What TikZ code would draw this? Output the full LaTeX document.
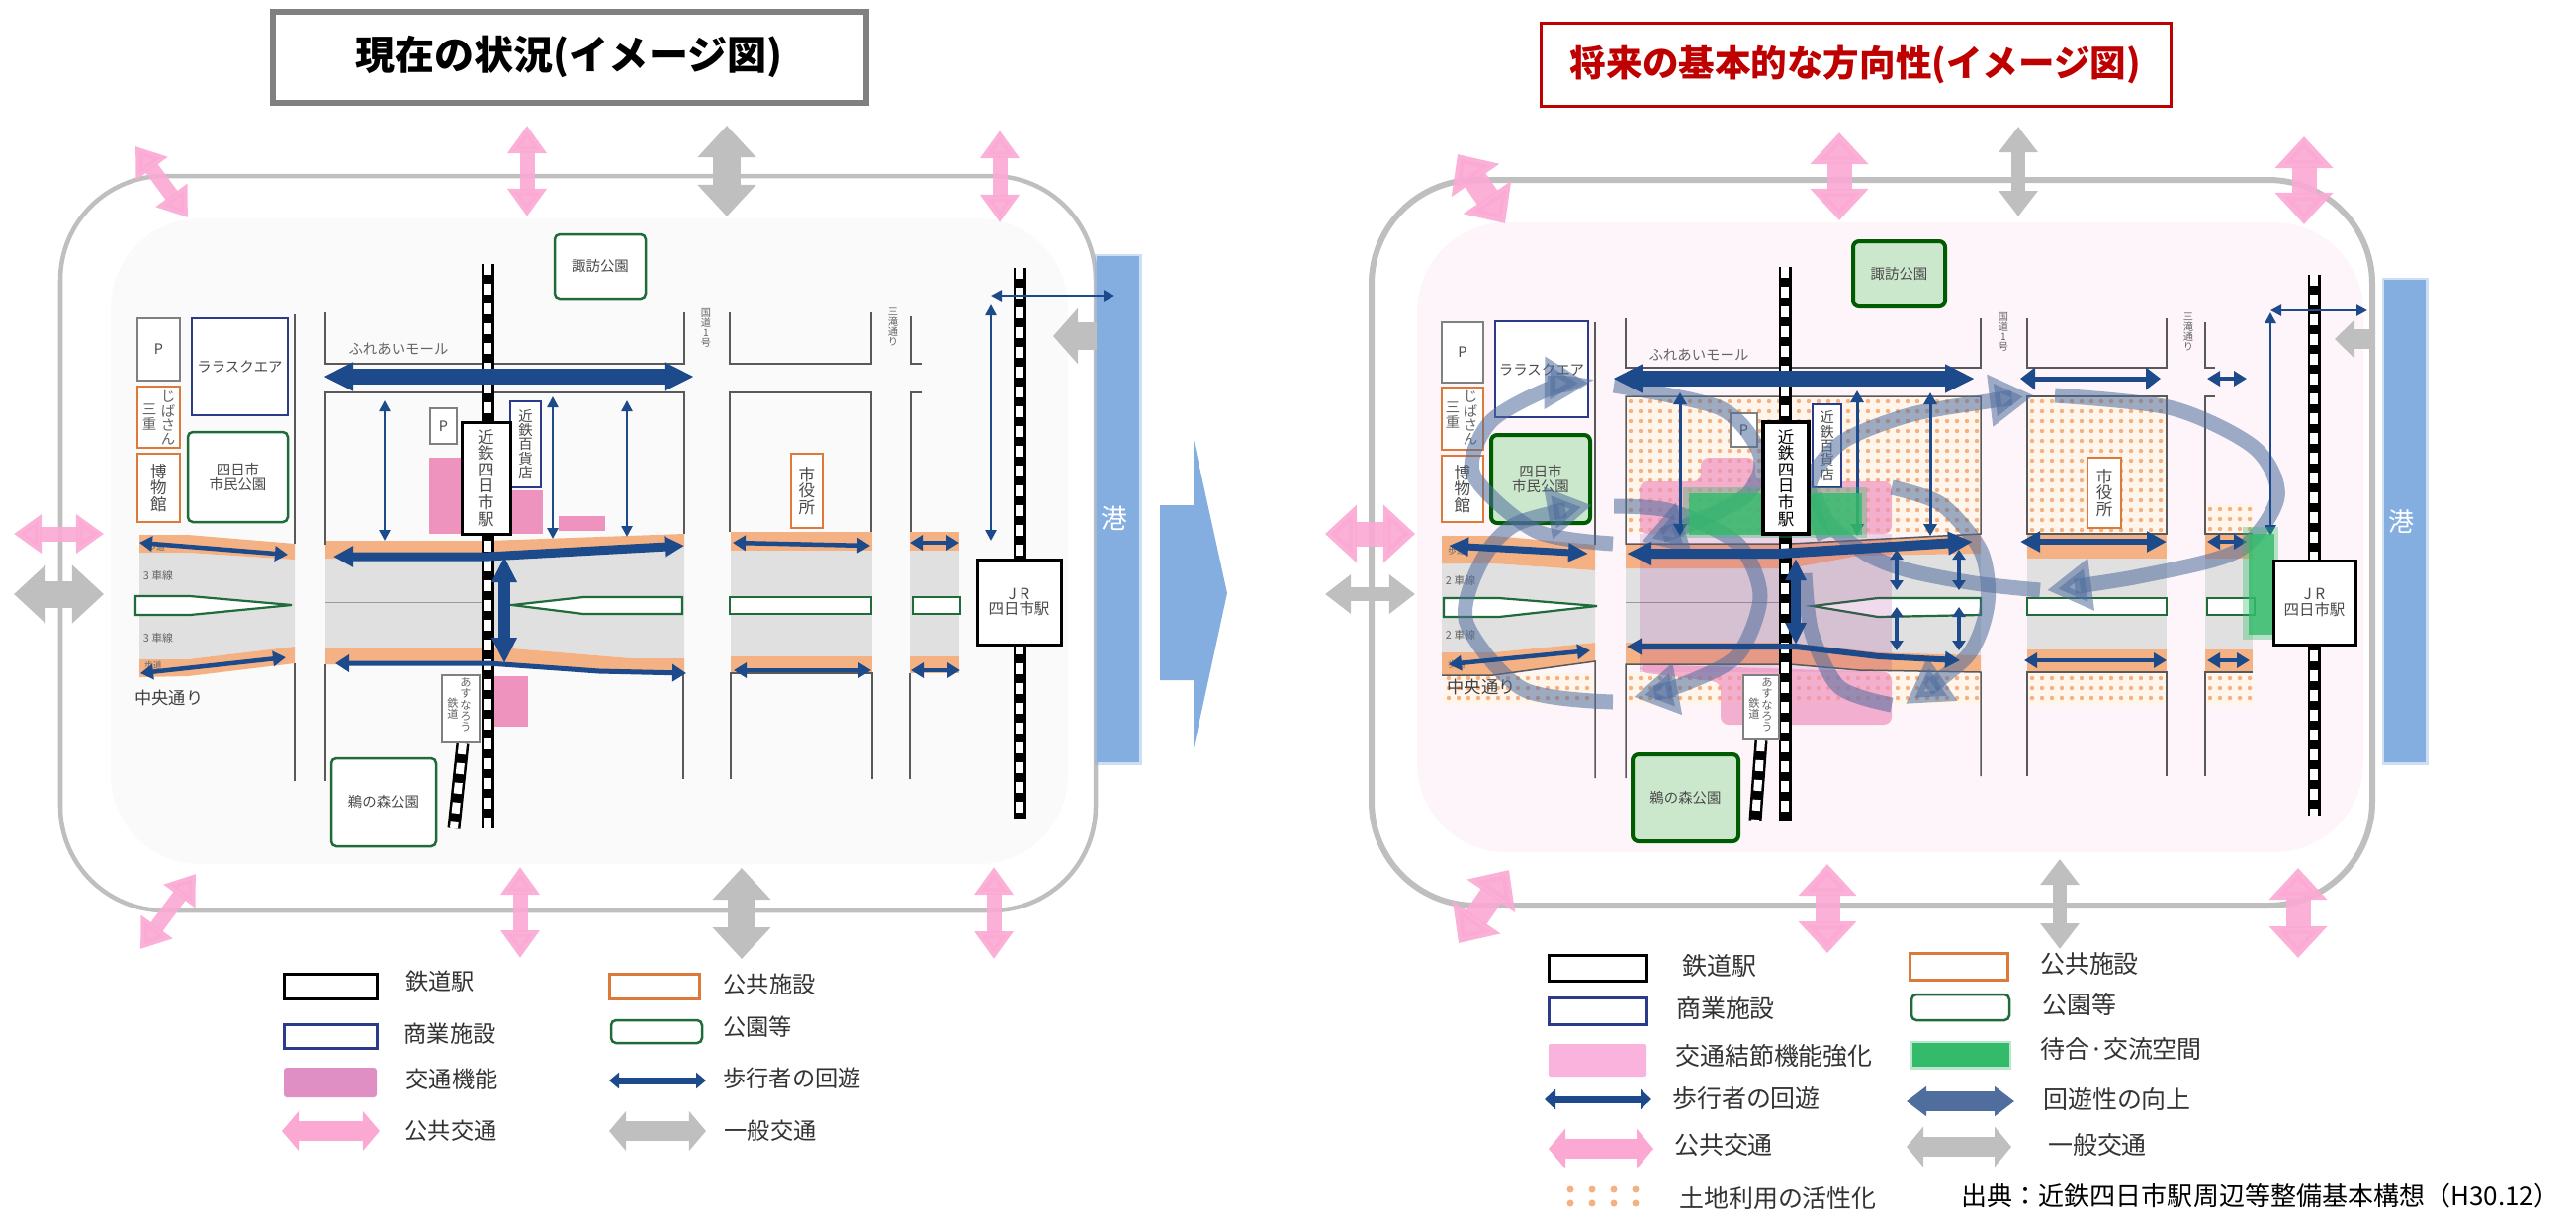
\documentclass[tikz,border=0pt]{standalone}
\usepackage{fontspec}
\setmainfont{Noto Sans CJK JP}
\usepackage{xcolor}
\usetikzlibrary{positioning,shapes,arrows,arrows.meta}
\definecolor{pubpink}{HTML}{FBA9D3}
\definecolor{gengray}{HTML}{BFBFBF}
\definecolor{navy}{HTML}{1D4A8A}
\definecolor{portblue}{HTML}{85AEE0}
\definecolor{roadgray}{HTML}{E0E0E0}
\definecolor{walkorange}{HTML}{F4B183}
\definecolor{parkgreen}{HTML}{1F6B3A}
\definecolor{civicorange}{HTML}{DD7A3A}
\definecolor{shopblue}{HTML}{2C3A8C}
\definecolor{transpink}{HTML}{EE92BE}
\definecolor{bandblue}{HTML}{4F6D9D}
\definecolor{waitgreen}{HTML}{33BB6B}
\definecolor{tgray}{HTML}{4A4A4A}
\newcommand{\fsz}[1]{\fontsize{#1}{#1}\selectfont\lineskiplimit=-10pt\relax}
\newcommand{\dotr}{.022cm}
\newcommand{\dotgrid}[6]{%
  \pgfmathsetmacro{\dxa}{#1+#5/2}\pgfmathsetmacro{\dxb}{#1+3*#5/2}%
  \pgfmathsetmacro{\dya}{#2+#6/2}\pgfmathsetmacro{\dyb}{#2+3*#6/2}%
  \foreach \dx in {\dxa,\dxb,...,#3} \foreach \dy in {\dya,\dyb,...,#4}
    \fill [walkorange] (\dx,\dy) circle [radius=\dotr];
}
\tikzset{
  sz/.style 2 args={minimum width=#1*.01cm, minimum height=#2*.01cm},
  ends/.style 2 args={arrows={Triangle[length=#1,width=#2]-Triangle[length=#1,width=#2]}}
}
\tikzstyle{box} = [draw, fill=white, inner sep=0pt, outer sep=0pt, line width=.02cm, text=tgray, align=center]
\tikzstyle{station} = [box, draw=black, line width=.03cm]
\tikzstyle{shop} = [box, draw=shopblue]
\tikzstyle{civic} = [box, draw=civicorange]
\tikzstyle{pbox} = [box, draw=gray]
\tikzstyle{park} = [box, draw=parkgreen, rounded corners=.05cm, line width=.025cm]
\tikzstyle{parkup} = [box, draw=black!40!green!60!black, fill=green!55!black!20, rounded corners=.06cm, line width=.04cm]
\tikzstyle{tsm} = [inner sep=0pt, text=tgray!85, align=center, font=\fsz{3.1}]
\tikzstyle{tmd} = [font=\fsz{4.1}]
\tikzstyle{tlg} = [font=\fsz{4.7}]
\tikzstyle{leg} = [inner sep=0pt, text=black!80, font=\fsz{6.6}]
\tikzstyle{legr} = [inner sep=0pt, text=black!80, font=\fsz{7.1}]
\tikzstyle{street} = [draw=black!65, line width=.015cm]
\tikzstyle{road} = [fill=roadgray]
\tikzstyle{side} = [fill=walkorange]
\tikzstyle{median} = [draw=parkgreen, fill=white, line width=.022cm]
\tikzstyle{rail} = [draw=white, line width=.08cm, dash pattern=on .11cm off .09cm, preaction={draw=black, solid, line width=.13cm}]
\tikzstyle{pubthin} = [draw=pubpink, opacity=.9, line width=.15cm, ends={.28cm}{.38cm}]
\tikzstyle{pubfat} = [draw=pubpink, opacity=.9, line width=.25cm, ends={.32cm}{.57cm}]
\tikzstyle{genthin} = [draw=gengray, line width=.14cm, ends={.26cm}{.38cm}]
\tikzstyle{genfat} = [draw=gengray, line width=.27cm, ends={.32cm}{.57cm}]
\tikzstyle{walkbig} = [draw=navy, line width=.16cm, ends={.3cm}{.27cm}]
\tikzstyle{walkmid} = [draw=navy, line width=.09cm, ends={.2cm}{.2cm}]
\tikzstyle{walksm} = [draw=navy, line width=.045cm, ends={.13cm}{.15cm}]
\tikzstyle{walkfine} = [draw=navy, line width=.025cm, ends={.11cm}{.11cm}]
\tikzstyle{band} = [draw=bandblue, opacity=.55, line width=.15cm]
\tikzstyle{bandhead} = [band, -{Triangle[length=.45cm,width=.5cm]}]
\tikzstyle{port} = [fill=portblue, draw=portblue, draw opacity=.4, line width=.05cm]

\begin{document}
\begin{tikzpicture}[x=.01cm, y=-.01cm]
    \useasboundingbox (0,0) rectangle (2605,1223);

    % Left titles and frame
    \node at (575.5,57.5) [draw=black!50, line width=.06cm, fill=white, sz={600}{92}, font=\fsz{11.4}\bfseries] (ltitle) {現在の状況(イメージ図)};
    \draw [gengray, line width=.045cm, rounded corners=1.05cm] (61,178) rectangle (1108,921);
    \fill [black!2, rounded corners=.9cm] (112,221) rectangle (1080,874);
    \path [port] (1109,259) rectangle (1152,771);
    \node at (1127,524) [text=white, inner sep=0pt, font=\fsz{7.6}] (lport) {港};

    % Left roads
    \path [road] (141,559) -- (190,559) -- (298,566) -- (298,654) -- (190,667) -- (141,667) -- cycle;
    \path [road] (329,565) -- (692,553) -- (692,666) -- (638,666) -- (518,656) -- (329,656) -- cycle;
    \path [road] (739,557) rectangle (882,664);
    \path [road] (920,557) rectangle (970,664);
    \path [side] (141,541) -- (190,541) -- (298,550) -- (298,566) -- (190,559) -- (141,559) -- cycle;
    \path [side] (141,667) -- (190,667) -- (298,654) -- (298,671) -- (190,684) -- (141,685) -- cycle;
    \path [side] (329,547) -- (493,547) -- (692,540) -- (692,553) -- (500,565) -- (329,565) -- cycle;
    \path [side] (329,656) -- (518,656) -- (638,666) -- (692,666) -- (692,681) -- (640,681) -- (510,672) -- (329,672) -- cycle;
    \path [side] (739,538) rectangle (882,557);
    \path [side] (739,664) rectangle (882,681);
    \path [side] (920,538) rectangle (970,557);
    \path [side] (920,664) rectangle (970,681);
    \path [median] (137,603) -- (192,603) -- (295,612) -- (192,622) -- (137,622) -- cycle;
    \path [median] (518,612) -- (590,604) -- (690,604) -- (690,621) -- (590,621) -- cycle;
    \path [median] (738,604) rectangle (881,621);
    \path [median] (923,604) rectangle (971,621);
    \path [draw=black!40, line width=.01cm] (329,609) -- (490,609);

    % Left streets
    \path [street] (298,318) -- (298,550);
    \path [street] (298,671) -- (298,790);
    \path [street] (329,316) -- (329,368) -- (692,368) -- (692,316);
    \path [street] (329,551) -- (329,397) -- (692,397) -- (692,540);
    \path [street] (329,790) -- (329,672);
    \path [street] (691,681) -- (691,788);
    \path [street] (738,316) -- (738,368) -- (881,368) -- (881,316);
    \path [street] (738,538) -- (738,397) -- (881,397) -- (881,538);
    \path [street] (739,788) -- (739,681) -- (882,681) -- (882,788);
    \path [street] (921,320) -- (921,368) -- (932,368);
    \path [street] (932,397) -- (921,397) -- (921,538);
    \path [street] (920,788) -- (920,681);

    % Left pink areas and railways
    \fill [transpink] (434,463) rectangle (467,540);
    \fill [transpink] (516,496) rectangle (549,540);
    \fill [transpink] (565,522) rectangle (612,537);
    \fill [transpink] (500,684) rectangle (534,735);
    \path [rail] (493,267) -- (493,838);
    \path [rail] (468,752) -- (459,838);
    \path [rail] (1031,271) -- (1031,828);

    % Left nodes
    \node at (160.5,353.5) [pbox, sz={43}{63}, tmd] (lp) {P};
    \node at (242.5,371) [shop, sz={97}{98}, tmd] (llara) {ララスクエア};
    \node at (160.5,422) [civic, sz={43}{62}] (ljiba) {};
    \node at (170,423) [tsm, tmd] (ljiba1) {じ\\ば\\さ\\ん};
    \node at (151,422) [tsm, tmd] (ljiba2) {三\\重};
    \node at (160.5,493.5) [civic, sz={43}{69}, tlg] (lmuse) {博\\物\\館};
    \node at (240.5,482.5) [park, sz={101}{91}, tmd] (lpark) {四日市\\市民公園};
    \node at (607,269.5) [park, sz={92}{65}, tmd] (lsuwa) {諏訪公園};
    \node at (448.5,431) [pbox, sz={27}{36}, tmd] (lp2) {P};
    \node at (531.5,449.5) [shop, sz={31}{87}, tmd] (ldept) {近\\鉄\\百\\貨\\店};
    \node at (816,496.5) [civic, sz={32}{75}, tlg] (lcity) {市\\役\\所};
    \node at (466,717) [pbox, sz={38}{68}] (lazu) {};
    \node at (471,713) [tsm, font=\fsz{3.2}] (lazu1) {あ\\す\\な\\ろ\\う};
    \node at (458,717) [tsm, font=\fsz{3.2}] (lazu2) {鉄\\道};
    \node at (388,811.5) [park, sz={106}{89}, tmd] (lnomori) {鵜の森公園};
    \node at (403,353) [tsm, tmd] (lmall) {ふれあいモール};
    \node at (714,332) [tsm, font=\fsz{2.9}] (lr1) {国\\道\\1\\号};
    \node at (903,331) [tsm, font=\fsz{2.9}] (lmit) {三\\滝\\通\\り};
    \node at (160,582) [tsm] (llane1) {3 車線};
    \node at (160,645) [tsm] (llane2) {3 車線};
    \node at (158,553) [tsm, font=\fsz{2.5}] (lwalk1) {歩道};
    \node at (155,673) [tsm, font=\fsz{2.5}] (lwalk2) {歩道};
    \node at (171,706) [tsm, text=black!75, font=\fsz{4.9}] (lcentral) {中央通り};

    % Left pedestrian arrows
    \path [walkbig] (327,381) -- (702,381);
    \path [walkmid] (337,563) -- (493,563) -- (692,552);
    \path [walkmid, line width=.12cm, ends={.26cm}{.24cm}] (510,563) -- (510,671);
    \path [walkmid, line width=.05cm, ends={.14cm}{.17cm}] (339,671) -- (494,671) -- (606,679) -- (694,681);
    \path [walksm] (141,549) -- (291,561);
    \path [walksm] (142,681) -- (289,665);
    \path [walksm] (741,549) -- (880,552);
    \path [walksm] (742,678) -- (881,678);
    \path [walksm] (920,549) -- (970,549);
    \path [walksm] (921,678) -- (971,678);
    \path [walkfine] (389,405) -- (389,547);
    \path [walkfine] (559,401) -- (559,545);
    \path [walkfine] (634,405) -- (634,543);
    \path [walkfine] (1002,308) -- (1002,547);
    \path [walkfine] (1002,299) -- (1127,299);

    \node at (491.5,483.5) [station, sz={49}{113}, tlg] (lstn) {近\\鉄\\四\\日\\市\\駅};
    \node at (1030.5,609) [station, sz={85}{86}, font=\fsz{4.4}] (ljr) {J R\\四日市駅};

    % Left transport arrows
    \path [pubthin] (137,148) -- (190,220);
    \path [pubthin] (533,127) -- (533,219);
    \path [genfat] (735,127) -- (735,219);
    \path [pubthin] (1011,132) -- (1011,225);
    \path [pubthin] (14,540) -- (105,540);
    \path [genfat] (14,601) -- (105,601);
    \path [draw=gengray, line width=.28cm, -{Triangle[length=.25cm,width=.55cm]}] (1109,340) -- (1065,340);
    \path [pubthin] (198,884) -- (142,960);
    \path [pubthin] (526,877) -- (526,969);
    \path [genfat] (750,878) -- (750,970);
    \path [pubthin] (1005,877) -- (1005,970);

    % Left legend
    \node at (334,997.5) [station, sz={94}{25}] (lk1) {};
    \node at (445,993) [leg] (lt1) {鉄道駅};
    \node at (661.5,997.5) [civic, line width=.03cm, sz={91}{25}] (lk2) {};
    \node at (778,996) [leg] (lt2) {公共施設};
    \node at (334,1048) [shop, line width=.03cm, sz={94}{24}] (lk3) {};
    \node at (455,1046) [leg] (lt3) {商業施設};
    \node at (664,1043.5) [park, sz={92}{23}] (lk4) {};
    \node at (766,1039) [leg] (lt4) {公園等};
    \definecolor{legpink}{HTML}{DF8FC4}
    \node at (334,1095) [fill=legpink, rounded corners=.03cm, sz={94}{30}] (lk5) {};
    \node at (457,1092) [leg] (lt5) {交通機能};
    \path [walksm, line width=.07cm, ends={.1cm}{.16cm}] (616,1093) -- (714,1093);
    \node at (801,1091) [leg] (lt6) {歩行者の回遊};
    \path [draw=pubpink, line width=.2cm, ends={.17cm}{.39cm}] (285,1144) -- (384,1144);
    \node at (456,1144) [leg] (lt7) {公共交通};
    \path [draw=gengray, line width=.2cm, ends={.17cm}{.39cm}] (616,1144) -- (714,1144);
    \node at (779,1144) [leg] (lt8) {一般交通};

    % Centre arrow
    \fill [portblue] (1173,511) -- (1207,511) -- (1207,445) -- (1241,600) -- (1207,757) -- (1207,688) -- (1173,688) -- cycle;

    % Right titles and frame
    \node at (1876.5,65) [draw=red!75!black, line width=.03cm, fill=white, text=red!75!black, sz={637}{84}, font=\fsz{10.4}\bfseries] (rtitle) {将来の基本的な方向性(イメージ図)};
    \draw [gengray, line width=.06cm, rounded corners=1.05cm] (1387,182) rectangle (2399,916);
    \fill [magenta!4, rounded corners=.9cm] (1433,225) rectangle (2390,862);
    \path [port] (2411,283) rectangle (2453,771);
    \node at (2428,528) [text=white, inner sep=0pt, font=\fsz{7.4}] (rport) {港};

    % Right land use areas
    \fill [orange!8] (1644,401) rectangle (2003,540);
    \fill [orange!8] (2050,401) rectangle (2191,540);
    \fill [orange!8] (2230,510) rectangle (2278,540);
    \fill [orange!8] (1460,681) rectangle (1613,713);
    \fill [orange!8] (1644,681) rectangle (2003,713);
    \fill [orange!8] (2050,681) rectangle (2191,713);
    \fill [orange!8] (2230,681) rectangle (2278,713);
    \dotgrid{1644}{401}{2003}{540}{10}{10}
    \dotgrid{2050}{401}{2191}{540}{10}{10}
    \dotgrid{2230}{510}{2278}{540}{10}{10}
    \dotgrid{1460}{681}{1613}{713}{10}{10}
    \dotgrid{1644}{681}{2003}{713}{10}{10}
    \dotgrid{2050}{681}{2191}{713}{10}{10}
    \dotgrid{2230}{681}{2278}{713}{10}{10}

    % Right roads
    \path [road] (1458,570) -- (1510,570) -- (1613,577) -- (1613,650) -- (1510,660) -- (1458,660) -- cycle;
    \path [road] (1644,575) -- (1810,575) -- (1880,562) -- (2003,560) -- (2003,663) -- (1900,660) -- (1810,650) -- (1644,650) -- cycle;
    \path [road] (2050,565) rectangle (2191,657);
    \path [road] (2230,565) rectangle (2278,657);
    \path [side] (1458,542) -- (1510,542) -- (1613,551) -- (1613,577) -- (1510,570) -- (1458,570) -- cycle;
    \path [side] (1458,660) -- (1510,660) -- (1613,650) -- (1613,669) -- (1510,683) -- (1458,683) -- cycle;
    \path [side] (1644,550) -- (1810,550) -- (2003,540) -- (2003,560) -- (1880,562) -- (1810,575) -- (1644,575) -- cycle;
    \path [side] (1644,650) -- (1810,650) -- (1900,660) -- (2003,663) -- (2003,680) -- (1880,678) -- (1810,672) -- (1644,672) -- cycle;
    \path [side] (2050,540) rectangle (2191,565);
    \path [side] (2050,657) rectangle (2191,680);
    \path [side] (2230,540) rectangle (2278,565);
    \path [side] (2230,657) rectangle (2278,680);
    \path [median] (1460,605) -- (1516,605) -- (1615,613) -- (1516,624) -- (1460,624) -- cycle;
    \path [median] (1833,613) -- (1899,605) -- (2003,605) -- (2003,622) -- (1899,624) -- cycle;
    \path [median] (2050,605) rectangle (2191,622);
    \path [median] (2232,605) rectangle (2280,622);
    \path [draw=black!40, line width=.01cm] (1644,609) -- (1800,609);

    % Right interchange area
    \fill [transpink, opacity=.7, rounded corners=.08cm] (1720,463) -- (1775,463) -- (1775,487) -- (1913,487) -- (1913,540) -- (1658,540) -- (1658,487) -- (1720,487) -- cycle;
    \fill [violet!70!transpink, opacity=.17] (1658,540) rectangle (1913,680);
    \fill [transpink, opacity=.7, rounded corners=.08cm] (1658,672) -- (1913,680) -- (1913,733) -- (1740,733) -- (1740,690) -- (1658,680) -- cycle;

    % Right streets
    \path [street] (1613,326) -- (1613,551);
    \path [street] (1458,683) -- (1510,683) -- (1613,669) -- (1613,787);
    \path [street] (1644,322) -- (1644,372) -- (2003,372) -- (2003,322);
    \path [street] (1810,550) -- (1644,550) -- (1644,401) -- (2003,401) -- (2003,540) -- (1810,550);
    \path [street] (1644,787) -- (1644,672) -- (1810,672) -- (1880,678) -- (2003,680) -- (2003,785);
    \path [street] (2050,322) -- (2050,372) -- (2191,372) -- (2191,322);
    \path [street] (2050,401) rectangle (2191,540);
    \path [street] (2050,785) -- (2050,680) -- (2191,680) -- (2191,785);
    \path [street] (2230,326) -- (2230,372) -- (2240,372);
    \path [street] (2240,401) -- (2230,401) -- (2230,540) -- (2278,540);
    \path [street] (2230,785) -- (2230,680) -- (2278,680);
    \path [rail] (1805,270) -- (1805,830);
    \path [rail] (1781,749) -- (1775,830);
    \path [rail] (2340,278) -- (2340,825);

    % Right nodes
    \node at (1479,356.5) [pbox, sz={42}{61}, tmd] (rp) {P};
    \node at (1559,373.5) [shop, sz={94}{97}, tmd] (rlara) {ララスクエア};
    \node at (1479,423.5) [civic, sz={42}{63}] (rjiba) {};
    \node at (1487,423) [tsm, tmd] (rjiba1) {じ\\ば\\さ\\ん};
    \node at (1469,420) [tsm, tmd] (rjiba2) {三\\重};
    \node at (1479,494.5) [civic, sz={42}{67}, tlg] (rmuse) {博\\物\\館};
    \node at (1558,484.5) [parkup, sz={100}{89}, tmd] (rpark) {四日市\\市民公園};
    \node at (1920.5,277) [parkup, sz={93}{66}, tmd] (rsuwa) {諏訪公園};
    \node at (1763.5,435) [pbox, sz={27}{34}, tmd] (rp2) {P};
    \node at (1847.5,451) [shop, sz={29}{84}, tmd] (rdept) {近\\鉄\\百\\貨\\店};
    \node at (2128,498.5) [civic, sz={34}{71}, tlg] (rcity) {市\\役\\所};
    \node at (1781,715.5) [pbox, sz={36}{65}] (razu) {};
    \node at (1787,713) [tsm, font=\fsz{3.2}] (razu1) {あ\\す\\な\\ろ\\う};
    \node at (1774,717) [tsm, font=\fsz{3.2}] (razu2) {鉄\\道};
    \node at (1704.5,807) [parkup, sz={107}{88}, tmd] (rnomori) {鵜の森公園};
    \node at (1718,359) [tsm, tmd] (rmall) {ふれあいモール};
    \node at (2026,336) [tsm, font=\fsz{2.9}] (rr1) {国\\道\\1\\号};
    \node at (2213,336) [tsm, font=\fsz{2.9}] (rmit) {三\\滝\\通\\り};
    \node at (1477,587) [tsm] (rlane1) {2 車線};
    \node at (1477,642) [tsm] (rlane2) {2 車線};
    \node at (1473,557) [tsm, font=\fsz{2.5}] (rwalk1) {歩道};
    \node at (1473,672) [tsm, font=\fsz{2.5}] (rwalk2) {歩道};
    \node at (1498,695) [tsm, text=black!75, font=\fsz{4.9}] (rcentral) {中央通り};

    % Right circulation bands
    \path [bandhead] plot [smooth] coordinates {(1631,550) (1553,537) (1490,480) (1507,427) (1567,393) (1607,388)};
    \path [bandhead] plot [smooth] coordinates {(1631,710) (1540,697) (1483,630) (1497,570) (1533,530) (1610,511)};
    \path [bandhead] plot [smooth] coordinates {(1632,390) (1740,413) (1780,460) (1767,500) (1710,530) (1660,548)};
    \path [bandhead] plot [smooth] coordinates {(1632,512) (1690,517) (1757,550) (1780,603) (1757,663) (1700,693) (1652,705)};
    \path [bandhead] plot [smooth] coordinates {(1845,545) (1830,490) (1863,447) (1930,420) (2003,407) (2057,400)};
    \path [bandhead] plot [smooth] coordinates {(2078,400) (2197,413) (2280,453) (2303,503) (2263,557) (2163,583) (2070,597)};
    \path [band] plot [smooth] coordinates {(2063,597) (1997,590) (1930,577) (1887,560) (1850,530) (1835,500)};
    \path [bandhead] plot [smooth] coordinates {(1913,493) (1963,510) (2003,557) (2010,610) (1990,663) (1927,712)};
    \path [band] plot [smooth] coordinates {(1913,713) (1860,695) (1832,640) (1825,580)};

    % Right pedestrian arrows
    \path [walkbig] (1631,383) -- (1997,383);
    \path [walksm, line width=.05cm, ends={.15cm}{.22cm}] (2043,383) -- (2185,383);
    \path [walksm] (2232,383) -- (2272,383);
    \path [walkmid, line width=.1cm, ends={.25cm}{.22cm}] (1645,560) -- (1799,560) -- (1995,548);
    \path [walkmid, line width=.07cm, ends={.2cm}{.18cm}] (1465,552) -- (1606,560);
    \path [walksm] (1465,672) -- (1608,658);
    \path [walkmid, line width=.06cm, ends={.2cm}{.2cm}] (2043,548) -- (2191,548);
    \path [walksm] (2047,668) -- (2191,668);
    \path [walksm] (2232,548) -- (2272,548);
    \path [walksm] (2232,668) -- (2275,668);
    \path [walkmid, line width=.06cm, ends={.15cm}{.16cm}] (1645,654) -- (1816,654) -- (1900,664) -- (1982,668);
    \path [walkmid, line width=.1cm, ends={.22cm}{.2cm}] (1816,565) -- (1816,652);
    \path [walksm, line width=.03cm, ends={.12cm}{.13cm}] (1699,397) -- (1699,542);
    \path [walksm, line width=.03cm, ends={.12cm}{.13cm}] (1878,395) -- (1878,542);
    \path [walksm, line width=.03cm, ends={.12cm}{.13cm}] (1952,397) -- (1952,542);
    \path [walkfine] (2296,316) -- (2296,542);
    \path [walkfine] (2296,314) -- (2394,314);
    \path [walksm, ends={.1cm}{.13cm}] (1918,556) -- (1918,597);
    \path [walksm, ends={.1cm}{.13cm}] (1981,556) -- (1981,597);
    \path [walksm, ends={.1cm}{.13cm}] (1918,614) -- (1918,658);
    \path [walksm, ends={.1cm}{.13cm}] (1981,614) -- (1981,658);

    % Right waiting spaces
    \fill [waitgreen, opacity=.35] (1702,493) rectangle (1888,544);
    \fill [waitgreen, opacity=.8] (1708,499) rectangle (1883,541);
    \fill [waitgreen, opacity=.35] (2268,533) rectangle (2304,647);
    \fill [waitgreen, opacity=.8] (2274,540) rectangle (2300,642);

    \node at (1806,483.5) [station, line width=.045cm, sz={46}{113}, text=black, tlg] (rstn) {近\\鉄\\四\\日\\市\\駅};
    \node at (2340.5,609.5) [station, sz={83}{85}, font=\fsz{4.4}] (rjr) {J R\\四日市駅};

    % Right transport arrows
    \path [pubfat] (1474,156) -- (1522,226);
    \path [pubfat] (1860,134) -- (1860,223);
    \path [genthin] (2041,128) -- (2041,219);
    \path [pubfat] (2330,138) -- (2330,227);
    \path [pubfat] (1340,540) -- (1431,540);
    \path [genthin] (1340,601) -- (1431,601);
    \path [draw=gengray, line width=.2cm, -{Triangle[length=.2cm,width=.38cm]}] (2397,343) -- (2361,343);
    \path [pubfat] (1526,880) -- (1475,954);
    \path [pubfat] (1848,874) -- (1848,964);
    \path [genthin] (2083,869) -- (2083,960);
    \path [pubfat] (2324,878) -- (2324,969);

    % Right legend
    \node at (1615.5,979) [station, sz={99}{26}] (rk1) {};
    \node at (1739,977) [legr] (rt1) {鉄道駅};
    \node at (1980.5,977.5) [civic, line width=.03cm, sz={99}{27}] (rk2) {};
    \node at (2113,975) [legr] (rt2) {公共施設};
    \node at (1615.5,1022.5) [shop, line width=.03cm, sz={99}{27}] (rk3) {};
    \node at (1745,1020) [legr] (rt3) {商業施設};
    \node at (1982.5,1019) [park, sz={99}{26}] (rk4) {};
    \node at (2103,1016) [legr] (rt4) {公園等};
    \node at (1615.5,1072.5) [fill=magenta!30, rounded corners=.02cm, sz={99}{33}] (rk5) {};
    \node at (1794,1068) [legr] (rt5) {交通結節機能強化};
    \node at (1982.5,1067) [fill=waitgreen, draw=waitgreen, draw opacity=.35, line width=.05cm, sz={98}{24}] (rk6) {};
    \node at (2145,1061) [legr] (rt6) {待合·交流空間};
    \path [walksm, line width=.07cm, ends={.11cm}{.2cm}] (1562,1112) -- (1670,1112);
    \node at (1766,1111) [legr] (rt7) {歩行者の回遊};
    \path [draw=bandblue, line width=.2cm, ends={.2cm}{.29cm}] (1928,1114) -- (2037,1114);
    \node at (2141,1112) [legr] (rt8) {回遊性の向上};
    \path [draw=pubpink, line width=.2cm, ends={.17cm}{.4cm}] (1566,1162) -- (1672,1162);
    \node at (1743,1158) [legr] (rt9) {公共交通};
    \path [draw=gengray, line width=.2cm, ends={.17cm}{.4cm}] (1928,1160) -- (2034,1160);
    \node at (2121,1158) [legr] (rt10) {一般交通};
    \renewcommand{\dotr}{.035cm}
    \dotgrid{1577}{1196}{1666}{1223}{22}{14}
    \node at (1798,1212) [legr] (rt11) {土地利用の活性化};
    \node at (2286,1210) [inner sep=0pt, font=\fsz{7.4}] (rsource) {出典：近鉄四日市駅周辺等整備基本構想（H30.12）};
\end{tikzpicture}
\end{document}
